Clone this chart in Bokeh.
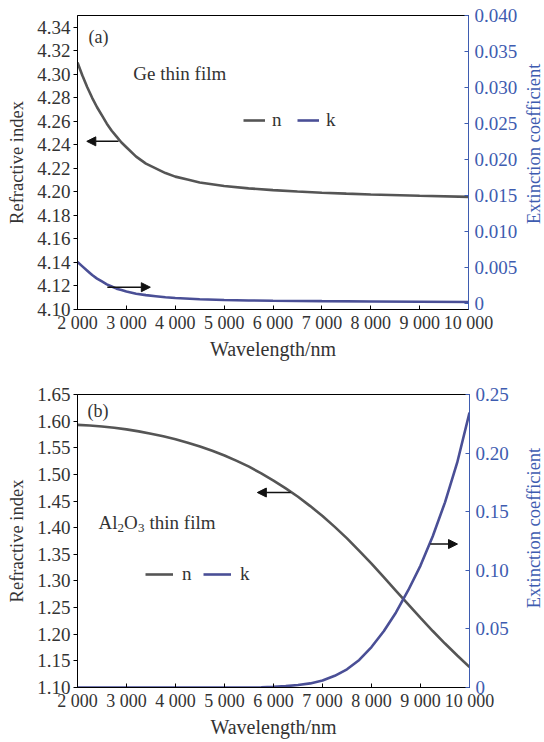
import math
from bokeh.plotting import figure
from bokeh.models import (Range1d, LinearAxis, FixedTicker, NumeralTickFormatter, Label,
                          Arrow, NormalHead, Legend, LegendItem)
from bokeh.layouts import column, row
from bokeh.embed import file_html
from bokeh.resources import INLINE

# ---------------- data ----------------
wavelength_ticks = [2000, 3000, 4000, 5000, 6000, 7000, 8000, 9000, 10000]
wavelength_tick_labels = ["2 000", "3 000", "4 000", "5 000", "6 000", "7 000", "8 000", "9 000", "10 000"]

# (a) Ge thin film
ge_wl_n = [2000, 2100, 2200, 2300, 2400, 2500, 2600, 2700, 2800, 2900, 3000, 3200, 3400, 3600, 3800, 4000,
           4250, 4500, 4750, 5000, 5500, 6000, 6500, 7000, 7500, 8000, 9000, 10000]
ge_n = [4.310, 4.299, 4.289, 4.280, 4.272, 4.265, 4.258, 4.252, 4.247, 4.242, 4.238, 4.230, 4.224, 4.220,
        4.216, 4.213, 4.2105, 4.208, 4.2065, 4.205, 4.203, 4.2015, 4.2003, 4.1993, 4.1985, 4.1978, 4.1967, 4.1958]
ge_wl_k = [2000, 2100, 2200, 2300, 2400, 2500, 2600, 2700, 2800, 2900, 3000, 3200, 3400, 3600, 3800, 4000,
           4500, 5000, 5500, 6000, 7000, 8000, 9000, 10000]
ge_k = [0.0057, 0.0051, 0.0045, 0.0039, 0.0034, 0.0030, 0.0026, 0.0023, 0.0020, 0.0018, 0.0016, 0.0013,
        0.0011, 0.00095, 0.0008, 0.0007, 0.00052, 0.00042, 0.00036, 0.00032, 0.00026, 0.00022, 0.00018, 0.00015]
ge_n_ticks = [4.10, 4.12, 4.14, 4.16, 4.18, 4.20, 4.22, 4.24, 4.26, 4.28, 4.30, 4.32, 4.34]
ge_k_ticks = [0, 0.005, 0.010, 0.015, 0.020, 0.025, 0.030, 0.035, 0.040]

# (b) Al2O3 thin film
al_wl_n = [2000, 2250, 2500, 2750, 3000, 3250, 3500, 3750, 4000, 4250, 4500, 4750, 5000, 5250, 5500, 5750,
           6000, 6250, 6500, 6750, 7000, 7250, 7500, 7750, 8000, 8250, 8500, 8750, 9000, 9250, 9500, 9750, 10000]
al_n = [1.5930, 1.5918, 1.5900, 1.5875, 1.5845, 1.5808, 1.5765, 1.5716, 1.5660, 1.5596, 1.5525, 1.5444,
        1.5355, 1.5254, 1.5145, 1.5020, 1.4885, 1.4737, 1.4580, 1.4405, 1.4220, 1.4015, 1.3800, 1.3565,
        1.3325, 1.3070, 1.2815, 1.2560, 1.2305, 1.2060, 1.1825, 1.1600, 1.1385]
al_wl_k = [2000, 3000, 4000, 5000, 5500, 5750, 6000, 6250, 6500, 6750, 7000, 7250, 7500, 7750, 8000,
           8250, 8500, 8750, 9000, 9250, 9500, 9750, 10000]
al_k = [0.0, 0.0, 0.0, 0.0, 0.0, 0.0001, 0.0005, 0.0012, 0.0022, 0.0035, 0.0060, 0.0100, 0.0155, 0.0235, 0.0345,
        0.0480, 0.0640, 0.0830, 0.1040, 0.1290, 0.1580, 0.1920, 0.2345]
al_n_ticks = [1.10, 1.15, 1.20, 1.25, 1.30, 1.35, 1.40, 1.45, 1.50, 1.55, 1.60, 1.65]
al_k_ticks = [0, 0.05, 0.10, 0.15, 0.20, 0.25]

# ---------------- style ----------------
FONT = "Liberation Serif"
DARK = "#333333"
BLUE = "#3e5cb0"
N_COLOR = "#555555"
K_COLOR = "#4a4f96"
PANEL_H = 371
STRIP_W = 24


def make_panel(y_range, k_range, n_ticks, n_fmt, k_ticks, k_fmt, k_zero_label, top, bottom):
    p = figure(width=544 - STRIP_W, height=PANEL_H, output_backend="svg", toolbar_location=None,
               x_range=Range1d(2000, 10000), y_range=Range1d(*y_range),
               min_border_left=77, min_border_right=51, min_border_top=top, min_border_bottom=bottom)
    p.extra_y_ranges = {"k": Range1d(*k_range)}
    p.grid.visible = False
    p.outline_line_color = "black"
    p.outline_line_width = 1
    p.background_fill_color = "white"
    p.border_fill_color = "white"

    xa = p.xaxis[0]
    xa.ticker = FixedTicker(ticks=wavelength_ticks)
    xa.major_label_overrides = dict(zip(wavelength_ticks, wavelength_tick_labels))
    xa.minor_tick_line_color = None
    xa.major_tick_in = 4
    xa.major_tick_out = 0
    xa.major_label_standoff = 3
    xa.axis_label = "Wavelength/nm"
    xa.axis_label_standoff = 2

    ya = p.yaxis[0]
    ya.ticker = FixedTicker(ticks=n_ticks)
    ya.formatter = NumeralTickFormatter(format=n_fmt)
    ya.minor_tick_line_color = None
    ya.major_tick_in = 0
    ya.major_tick_out = 4
    ya.major_label_standoff = 3
    ya.axis_label = "Refractive index"
    ya.axis_label_standoff = 7

    ra = LinearAxis(y_range_name="k", ticker=FixedTicker(ticks=k_ticks),
                    formatter=NumeralTickFormatter(format=k_fmt))
    ra.major_label_overrides = {0: k_zero_label}
    ra.minor_tick_line_color = None
    ra.major_tick_in = 4
    ra.major_tick_out = 0
    ra.major_label_standoff = 6
    p.add_layout(ra, "right")

    for ax in (xa, ya):
        ax.axis_line_color = "black"
        ax.major_tick_line_color = "black"
        ax.major_label_text_color = DARK
        ax.axis_label_text_color = DARK
    ra.axis_line_color = BLUE
    ra.major_tick_line_color = BLUE
    ra.major_label_text_color = BLUE
    for ax in (xa, ya, ra):
        ax.major_label_text_font = FONT
        ax.major_label_text_font_size = "19px"
        ax.axis_label_text_font = FONT
        ax.axis_label_text_font_style = "normal"
    xa.major_label_text_font_size = "18px"
    xa.axis_label_text_font_size = "20px"
    ya.axis_label_text_font_size = "18.5px"
    return p


def make_right_title(frame_center_from_top):
    """Narrow strip to the right of a panel carrying the right-axis title (reads bottom to top)."""
    f = figure(width=STRIP_W, height=PANEL_H, output_backend="svg", toolbar_location=None,
               x_range=Range1d(0, STRIP_W), y_range=Range1d(0, PANEL_H),
               x_axis_location=None, y_axis_location=None,
               min_border_left=0, min_border_right=0, min_border_top=0, min_border_bottom=0)
    f.grid.visible = False
    f.outline_line_color = None
    f.background_fill_color = "white"
    f.border_fill_color = "white"
    f.add_layout(Label(x=13, y=PANEL_H - frame_center_from_top, text="Extinction coefficient",
                       angle=math.pi / 2, text_align="center", text_baseline="middle",
                       text_font=FONT, text_font_size="18.5px", text_color=BLUE))
    return f


def add_text(p, text, x, y, size="19px", x_offset=0, y_offset=0):
    lab = Label(x=x, y=y, text=text, text_font=FONT, text_font_size=size, text_color=DARK,
                text_baseline="middle", x_offset=x_offset, y_offset=y_offset)
    p.add_layout(lab)


def add_arrow(p, xs, ys, xe, ye, y_range_name="default"):
    p.add_layout(Arrow(end=NormalHead(size=9, fill_color="#111111", line_color="#111111", line_width=1),
                       x_start=xs, y_start=ys, x_end=xe, y_end=ye, line_color="#111111",
                       line_width=1.5, y_range_name=y_range_name))


# ---------------- panel (a) ----------------
pa = make_panel((4.10, 4.35), (-0.0009, 0.040), ge_n_ticks, "0.00", ge_k_ticks, "0.000", "0", 15, 62)
rn_a = pa.line(ge_wl_n, ge_n, line_color=N_COLOR, line_width=2.6)
rk_a = pa.line(ge_wl_k, ge_k, line_color=K_COLOR, line_width=2.6, y_range_name="k")
add_text(pa, "(a)", 2224, 4.3313, size="18px")
add_text(pa, "Ge thin film", 3143, 4.3007)
add_arrow(pa, 2840, 4.243, 2190, 4.243)
add_arrow(pa, 2610, 0.0022, 3490, 0.0022, y_range_name="k")
leg_a = Legend(items=[LegendItem(label="n", renderers=[rn_a]), LegendItem(label="k", renderers=[rk_a])],
               orientation="horizontal", location=(166, 178), glyph_width=22, glyph_height=20,
               label_height=20, label_width=10, label_standoff=7, spacing=15, padding=0, margin=0,
               background_fill_alpha=0, border_line_alpha=0,
               label_text_font=FONT, label_text_font_size="19px", label_text_color=DARK)
pa.add_layout(leg_a)
ta = make_right_title(162)

# ---------------- panel (b) ----------------
pb = make_panel((1.10, 1.65), (0, 0.25), al_n_ticks, "0.00", al_k_ticks, "0.00", "0", 23, 55)
rn_b = pb.line(al_wl_n, al_n, line_color=N_COLOR, line_width=2.6)
rk_b = pb.line(al_wl_k, al_k, line_color=K_COLOR, line_width=2.6, y_range_name="k")
add_text(pb, "(b)", 2204, 1.6198, size="18px")
# Al2O3 thin film, with subscripts
add_text(pb, "Al", 2429, 1.409)
add_text(pb, "2", 2429, 1.409, size="13px", x_offset=19, y_offset=-5)
add_text(pb, "O", 2429, 1.409, x_offset=25.5)
add_text(pb, "3", 2429, 1.409, size="13px", x_offset=39.5, y_offset=-5)
add_text(pb, "thin film", 2429, 1.409, x_offset=51)
add_arrow(pb, 6350, 1.466, 5670, 1.466)
add_arrow(pb, 9200, 0.1224, 9755, 0.1224, y_range_name="k")
leg_b = Legend(items=[LegendItem(label="n", renderers=[rn_b]), LegendItem(label="k", renderers=[rk_b])],
               orientation="horizontal", location=(68, 102), glyph_width=28, glyph_height=20,
               label_height=20, label_width=10, label_standoff=9, spacing=11, padding=0, margin=0,
               background_fill_alpha=0, border_line_alpha=0,
               label_text_font=FONT, label_text_font_size="19px", label_text_color=DARK)
pb.add_layout(leg_b)
tb = make_right_title(169)

layout = column(row(pa, ta, spacing=0), row(pb, tb, spacing=0), spacing=0)
open("out.html", "w").write(file_html(layout, INLINE))
